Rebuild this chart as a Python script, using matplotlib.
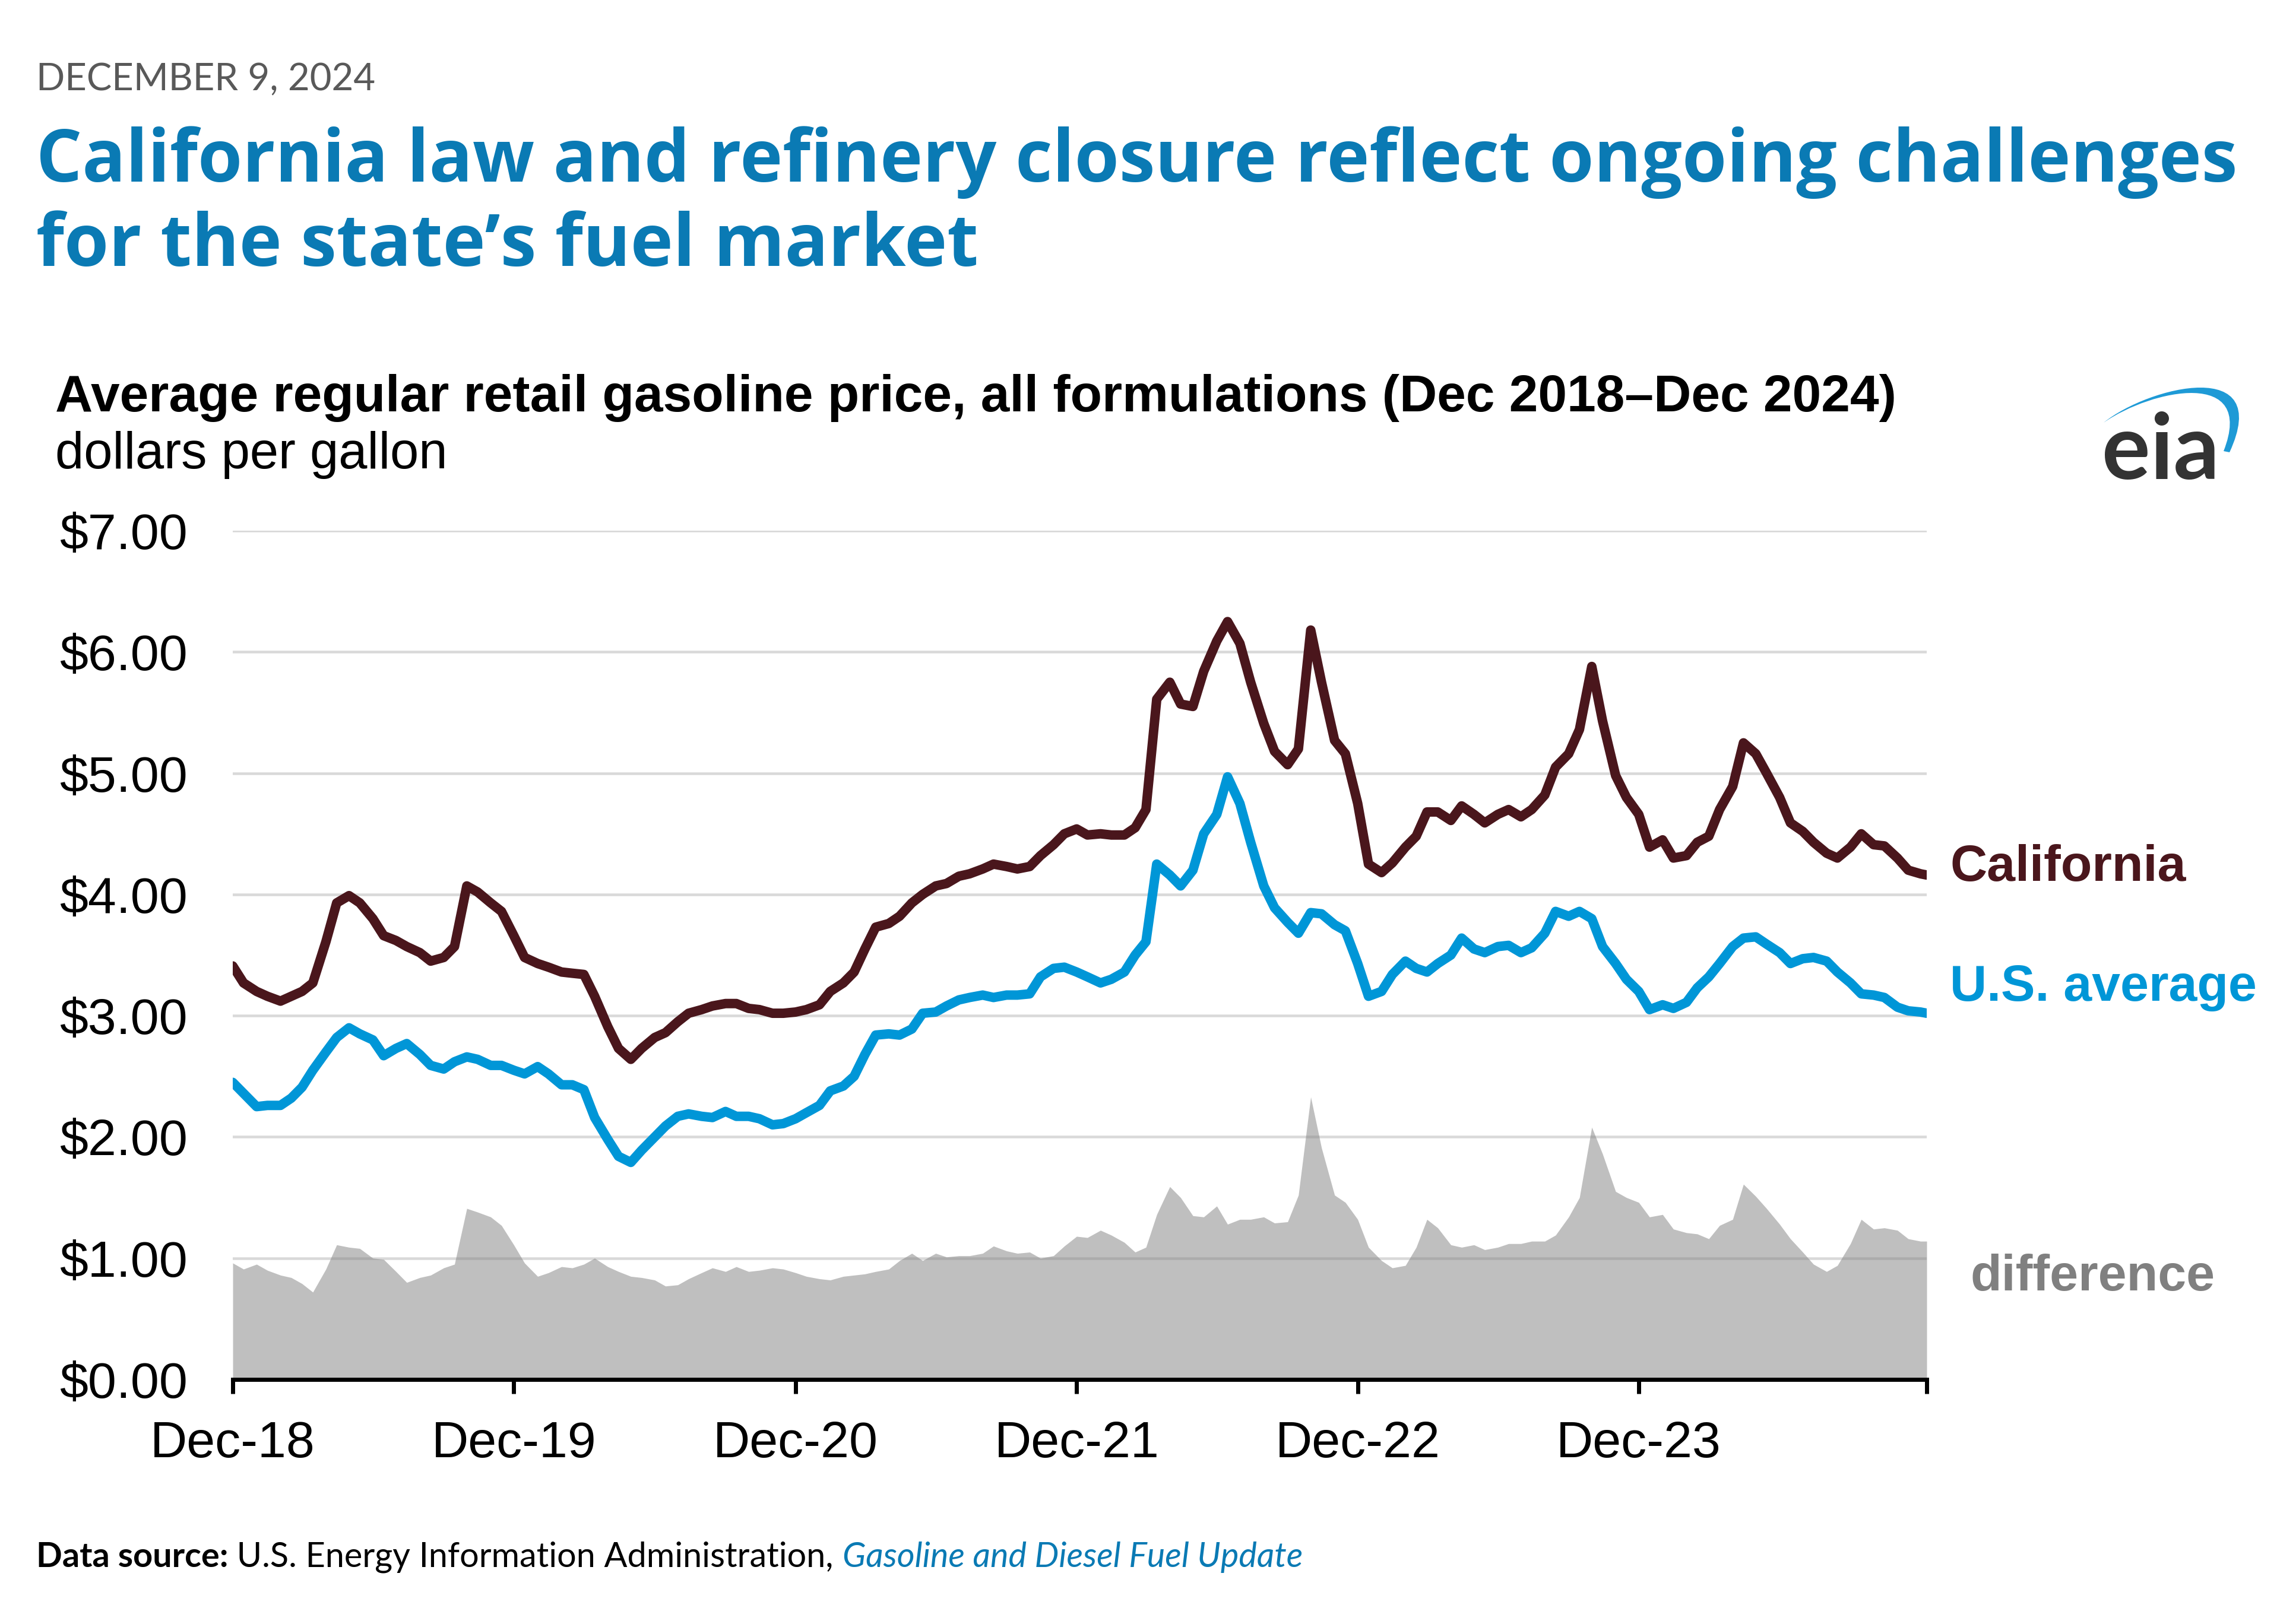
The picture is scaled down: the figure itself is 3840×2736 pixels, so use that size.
import numpy as np
import pandas as pd
import matplotlib
matplotlib.use("Agg")
import matplotlib.pyplot as plt
from matplotlib.path import Path
from matplotlib.patches import PathPatch

# semi-monthly readings of weekly prices, Dec 2018 - Dec 2024 (dollars per gallon)
dates = list(pd.date_range("2018-12-01", "2024-12-01", freq="SMS")) + [pd.Timestamp("2024-12-09")]

california = [
    3.41, 3.27, 3.20, 3.16, 3.12, 3.16, 3.20, 3.27, 3.61, 3.93,
    3.99, 3.93, 3.80, 3.66, 3.62, 3.57, 3.52, 3.45, 3.48, 3.57,
    4.07, 4.02, 3.93, 3.86, 3.66, 3.48, 3.43, 3.40, 3.36, 3.35,
    3.34, 3.16, 2.91, 2.73, 2.64, 2.73,
    2.82, 2.86, 2.95, 3.02, 3.05, 3.08, 3.10, 3.10, 3.06, 3.05,
    3.02, 3.02, 3.03, 3.05, 3.09, 3.20, 3.27, 3.36, 3.55, 3.73,
    3.76, 3.82, 3.93, 4.00, 4.07, 4.09, 4.15, 4.17, 4.21, 4.25,
    4.23, 4.21, 4.23, 4.32, 4.41, 4.50,
    4.54, 4.49, 4.50, 4.49, 4.49, 4.55, 4.70, 5.61, 5.75, 5.57,
    5.55, 5.84, 6.09, 6.25, 6.07, 5.75, 5.41, 5.18, 5.07, 5.20,
    6.18, 5.75, 5.27, 5.16, 4.75, 4.25, 4.18, 4.26, 4.39, 4.48,
    4.68, 4.68, 4.61, 4.73, 4.66, 4.59,
    4.66, 4.70, 4.64, 4.70, 4.82, 5.05, 5.16, 5.36, 5.88, 5.43,
    4.98, 4.80, 4.66, 4.39, 4.45, 4.30, 4.32, 4.43, 4.48, 4.70,
    4.89, 5.25, 5.16, 5.00, 4.80, 4.59, 4.52, 4.43, 4.34, 4.30,
    4.39, 4.50, 4.41, 4.40, 4.30, 4.20, 4.17, 4.16,
]

us_average = [
    2.45, 2.36, 2.25, 2.26, 2.26, 2.32, 2.41, 2.55, 2.70, 2.82,
    2.90, 2.85, 2.80, 2.67, 2.73, 2.77, 2.68, 2.59, 2.56, 2.62,
    2.66, 2.64, 2.59, 2.59, 2.55, 2.52, 2.58, 2.52, 2.43, 2.43,
    2.39, 2.16, 1.98, 1.84, 1.79, 1.89,
    2.00, 2.09, 2.17, 2.19, 2.17, 2.16, 2.21, 2.17, 2.17, 2.15,
    2.10, 2.11, 2.15, 2.20, 2.26, 2.38, 2.42, 2.50, 2.68, 2.84,
    2.85, 2.84, 2.89, 3.02, 3.03, 3.08, 3.13, 3.15, 3.17, 3.15,
    3.17, 3.17, 3.18, 3.32, 3.39, 3.40,
    3.36, 3.32, 3.27, 3.30, 3.36, 3.50, 3.61, 4.25, 4.16, 4.07,
    4.20, 4.50, 4.66, 4.97, 4.75, 4.43, 4.07, 3.89, 3.77, 3.68,
    3.85, 3.84, 3.75, 3.70, 3.43, 3.16, 3.20, 3.34, 3.45, 3.39,
    3.36, 3.43, 3.50, 3.64, 3.55, 3.52,
    3.57, 3.58, 3.52, 3.56, 3.68, 3.86, 3.82, 3.86, 3.80, 3.57,
    3.43, 3.30, 3.20, 3.05, 3.09, 3.06, 3.11, 3.23, 3.32, 3.43,
    3.57, 3.64, 3.65, 3.59, 3.52, 3.43, 3.47, 3.48, 3.45, 3.36,
    3.27, 3.18, 3.17, 3.15, 3.07, 3.04, 3.03, 3.02,
]

difference = np.array(california) - np.array(us_average)

tick_dates = [pd.Timestamp(f"{y}-12-01") for y in range(2018, 2024)] + [pd.Timestamp("2024-12-09")]
tick_labels = ["Dec-18", "Dec-19", "Dec-20", "Dec-21", "Dec-22", "Dec-23", ""]
y_ticks = [0, 1, 2, 3, 4, 5, 6, 7]

CA_COLOR = "#4a161c"
US_COLOR = "#0096d7"
TITLE_BLUE = "#0a7ab4"
ARIAL = "Liberation Sans"

fig = plt.figure(figsize=(15.36, 10.944), dpi=250)
ax = fig.add_axes([392 / 3840, 1 - 2324 / 2736, (3245 - 392) / 3840, (2324 - 894) / 2736])

for v in y_ticks[1:]:
    ax.axhline(v, color="#d9d9d9", lw=1.3, zorder=1)

ax.fill_between(dates, 0, difference, color="#808080", alpha=0.5, lw=0, zorder=2)
ax.plot(dates, us_average, color=US_COLOR, lw=4.6, solid_capstyle="round", zorder=3)
ax.plot(dates, california, color=CA_COLOR, lw=4.6, solid_capstyle="round", zorder=4)

ax.set_ylim(0, 7)
ax.set_xlim(pd.Timestamp("2018-12-01"), pd.Timestamp("2024-12-09"))
ax.set_yticks(y_ticks)
ax.set_yticklabels([f"${v:.2f}" for v in y_ticks], fontsize=24.8, family=ARIAL)
ax.set_xticks(tick_dates)
ax.set_xticklabels(tick_labels, fontsize=24.8, family=ARIAL)
ax.tick_params(axis="y", length=0, pad=22)
ax.tick_params(axis="x", length=7, width=2, pad=13, direction="out")
for s in ["left", "right", "top"]:
    ax.spines[s].set_visible(False)
ax.spines["bottom"].set_linewidth(2)
ax.spines["bottom"].set_zorder(5)

# series labels at the right
ytr = ax.get_yaxis_transform()
ax.text(1.0137, 4.22, "California", transform=ytr, color=CA_COLOR, fontsize=24.8,
        weight="bold", family=ARIAL, va="center", clip_on=False)
ax.text(1.0137, 3.23, "U.S. average", transform=ytr, color=US_COLOR, fontsize=24.8,
        weight="bold", family=ARIAL, va="center", clip_on=False)
ax.text(1.0256, 0.84, "difference", transform=ytr, color="#808080", fontsize=24.8,
        weight="bold", family=ARIAL, va="center", clip_on=False)

# header
fig.text(61 / 3840, 1 - 152 / 2736, "DECEMBER 9, 2024", fontsize=18.3, color="#595959",
         family="Lato", va="baseline")
fig.text(61 / 3840, 1 - 306 / 2736, "California law and refinery closure reflect ongoing challenges",
         fontsize=35, color=TITLE_BLUE, family="Open Sans", weight="bold", va="baseline")
fig.text(61 / 3840, 1 - 448 / 2736, "for the state\u2019s fuel market",
         fontsize=35, color=TITLE_BLUE, family="Open Sans", weight="bold", va="baseline")
fig.text(93 / 3840, 1 - 693 / 2736,
         "Average regular retail gasoline price, all formulations (Dec 2018\u2013Dec 2024)",
         fontsize=25.2, weight="bold", family=ARIAL, va="baseline")
fig.text(93 / 3840, 1 - 789 / 2736, "dollars per gallon", fontsize=25, family=ARIAL, va="baseline")

# eia logo
fig.text(3540 / 3840, 1 - 807 / 2736, "eia", fontsize=44, color="#333333", family="Lato",
         weight="bold", va="baseline")
pts = [(3543, 712), (3620, 650), (3830, 600), (3755, 762),
       (3745, 760), (3800, 620), (3625, 655), (3543, 712), (3543, 712)]
verts = [(x / 3840, 1 - y / 2736) for x, y in pts]
codes = [Path.MOVETO, Path.CURVE4, Path.CURVE4, Path.CURVE4,
         Path.LINETO, Path.CURVE4, Path.CURVE4, Path.CURVE4, Path.CLOSEPOLY]
fig.patches.append(PathPatch(Path(verts, codes), transform=fig.transFigure,
                             facecolor="#1e9ad6", edgecolor="none"))

# footer
t1 = fig.text(61 / 3840, 1 - 2640 / 2736, "Data source:", fontsize=16.6, weight="bold",
              family="Lato", va="baseline")
t2 = ax.annotate(" U.S. Energy Information Administration, ", xy=(1, 0), xycoords=t1,
                 fontsize=16.6, family="Lato", va="bottom", annotation_clip=False)
ax.annotate("Gasoline and Diesel Fuel Update", xy=(1, 0), xycoords=t2, fontsize=16.6,
            family="Lato", style="italic", color=TITLE_BLUE, va="bottom", annotation_clip=False)

fig.savefig("out.png", dpi=250)
